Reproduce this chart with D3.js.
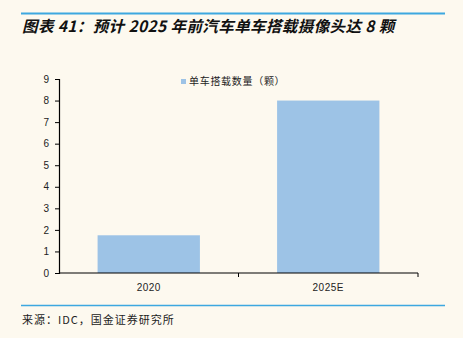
<!DOCTYPE html>
<html>
<head>
<meta charset="utf-8">
<script src="https://cdn.jsdelivr.net/npm/d3@7"></script>
<style>
  html, body { margin: 0; padding: 0; background: #FDF9EF; }
  svg { display: block; }
</style>
</head>
<body>
<svg id="chart" width="463" height="338"></svg>
<script>
// Cameras carried per vehicle
const categories = ["2020", "2025E"];
const cameraCounts = [1.75, 8];
const yTicks = [0, 1, 2, 3, 4, 5, 6, 7, 8, 9];
const seriesName = "单车搭载数量（颗）";
const titleText = "图表 41：预计 2025 年前汽车单车搭载摄像头达 8 颗";
const sourceText = "来源：IDC，国金证券研究所";

(function () {
  const svg = d3.select("#chart");
  const W = 463, H = 338;
  const ruleColor = "#3DA8E0";
  const barColor = "#9DC3E6";
  const cjk = "'Noto Sans CJK SC', sans-serif";
  const latin = "'Liberation Sans', Arial, sans-serif";

  svg.append("rect").attr("width", W).attr("height", H).attr("fill", "#FDF9EF");

  // header rule and title
  svg.append("line").attr("x1", 21).attr("x2", 445).attr("y1", 13.5).attr("y2", 13.5)
    .attr("stroke", ruleColor).attr("stroke-width", 2);
  svg.append("text").attr("x", 22).attr("y", 32)
    .attr("font-family", cjk).attr("font-size", 15.5).attr("font-weight", "bold")
    .attr("font-style", "italic").attr("letter-spacing", 0.4)
    .attr("fill", "#111").text(titleText);

  // footer rule and source
  svg.append("line").attr("x1", 21).attr("x2", 445).attr("y1", 305.5).attr("y2", 305.5)
    .attr("stroke", ruleColor).attr("stroke-width", 1.5);
  svg.append("text").attr("x", 22).attr("y", 324)
    .attr("font-family", cjk).attr("font-size", 11).attr("letter-spacing", 1)
    .attr("fill", "#222").text(sourceText);

  // plot area
  const plotLeft = 59, plotRight = 418, plotTop = 79, plotBottom = 273;
  const x = d3.scaleBand().domain(categories).range([plotLeft, plotRight])
    .paddingInner(0.43).paddingOuter(0.215);
  const y = d3.scaleLinear().domain([0, 9]).range([plotBottom, plotTop]);

  svg.selectAll("rect.bar").data(categories).enter().append("rect")
    .attr("class", "bar")
    .attr("x", d => x(d))
    .attr("width", x.bandwidth())
    .attr("y", (d, i) => y(cameraCounts[i]))
    .attr("height", (d, i) => plotBottom - y(cameraCounts[i]))
    .attr("fill", barColor);

  // y axis
  const yAxis = svg.append("g").attr("transform", `translate(${plotLeft},0)`)
    .call(d3.axisLeft(y).tickValues(yTicks).tickSize(4).tickPadding(6).tickFormat(d3.format("d")));
  yAxis.select(".domain").attr("stroke", "#000").attr("stroke-width", 1.2);
  yAxis.selectAll(".tick line").attr("stroke", "#000");
  yAxis.selectAll("text").attr("font-family", latin).attr("font-size", 10).attr("fill", "#222");

  // x axis, ticks sit on the category boundaries
  const xAxisG = svg.append("g").attr("transform", `translate(0,${plotBottom})`);
  xAxisG.append("line").attr("x1", plotLeft).attr("x2", plotRight).attr("y1", 0).attr("y2", 0)
    .attr("stroke", "#000").attr("stroke-width", 1.2);
  const half = (plotRight - plotLeft) / categories.length / 2;
  const bandEdges = categories.map(c => x(c) + x.bandwidth() / 2 + half);
  xAxisG.selectAll("line.tk").data(bandEdges).enter().append("line")
    .attr("class", "tk")
    .attr("x1", d => d).attr("x2", d => d).attr("y1", 0).attr("y2", 4)
    .attr("stroke", "#000");
  xAxisG.selectAll("text.lbl").data(categories).enter().append("text")
    .attr("class", "lbl")
    .attr("x", d => x(d) + x.bandwidth() / 2)
    .attr("y", 18)
    .attr("text-anchor", "middle")
    .attr("font-family", latin).attr("font-size", 10).attr("letter-spacing", 0.5).attr("fill", "#222")
    .text(d => d);

  // legend
  const lg = svg.append("g").attr("transform", "translate(181,79)");
  lg.append("rect").attr("width", 5).attr("height", 5).attr("fill", barColor);
  lg.append("text").attr("x", 8).attr("y", 6).attr("font-family", cjk).attr("font-size", 10)
    .attr("letter-spacing", 0.7).attr("fill", "#222").text(seriesName);
})();
</script>
</body>
</html>
